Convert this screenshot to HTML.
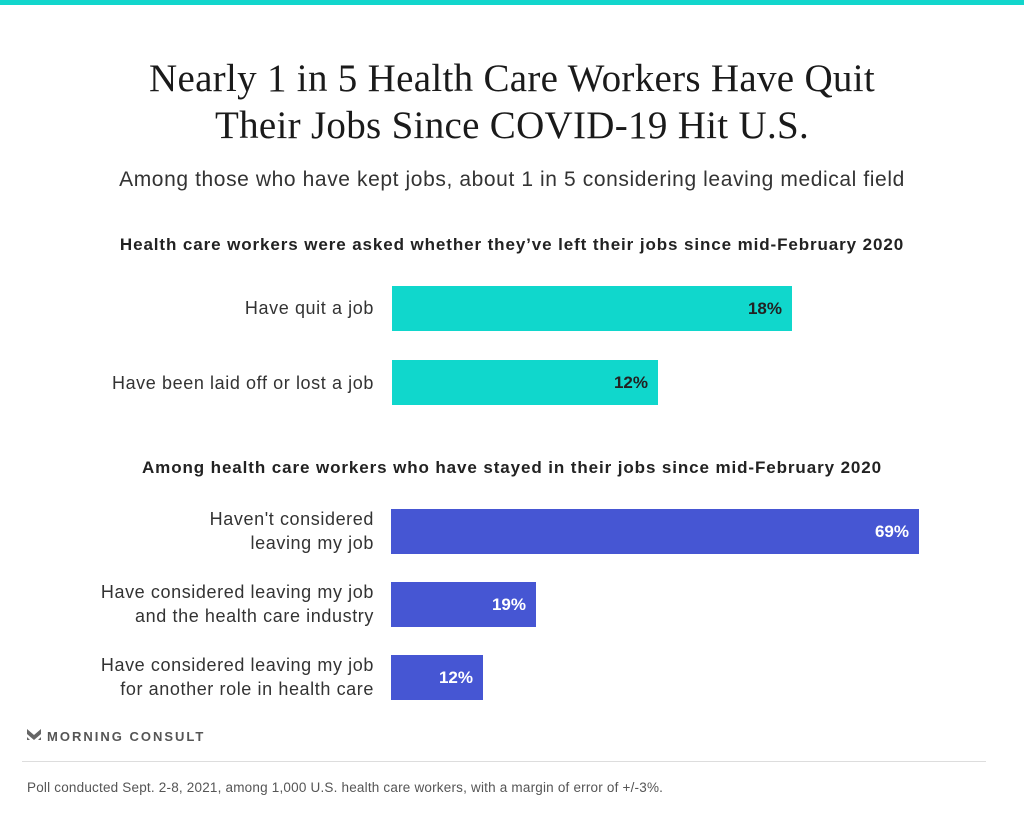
<!DOCTYPE html>
<html><head><meta charset="utf-8"><style>
body{margin:0;width:1024px;height:819px;background:#fff;position:relative;overflow:hidden;font-family:"Liberation Sans",sans-serif;color:#222}
.a{position:absolute}
.t{left:0;width:1024px;text-align:center;font-family:"Liberation Serif",serif;font-size:39px;color:#1a1a1a;letter-spacing:0.3px}
.lab{right:650px;text-align:right;font-size:18px;color:#333;line-height:24px;letter-spacing:0.6px}
.bar{left:392px;height:45px}
.v{position:absolute;right:10px;top:0;line-height:45px;font-weight:bold;font-size:17px}
.h{left:0;width:1024px;text-align:center;font-weight:bold;font-size:17px;color:#222;letter-spacing:0.9px}
</style></head><body>
<div class="a" style="left:0;top:0;width:1024px;height:5px;background:#12d6cc"></div>
<div class="a t" style="top:56px">Nearly 1 in 5 Health Care Workers Have Quit</div>
<div class="a t" style="top:103px">Their Jobs Since COVID-19 Hit U.S.</div>
<div class="a" style="left:0;width:1024px;text-align:center;top:168px;font-size:21px;color:#333;letter-spacing:0.6px">Among those who have kept jobs, about 1 in 5 considering leaving medical field</div>
<div class="a h" style="top:235px">Health care workers were asked whether they’ve left their jobs since mid-February 2020</div>
<div class="a lab" style="top:296px">Have quit a job</div>
<div class="a bar" style="top:286px;width:400px;background:#10d7cc"><span class="v" style="color:#222">18%</span></div>
<div class="a lab" style="top:371px">Have been laid off or lost a job</div>
<div class="a bar" style="top:360px;width:266px;background:#10d7cc"><span class="v" style="color:#222">12%</span></div>
<div class="a h" style="top:458px">Among health care workers who have stayed in their jobs since mid-February 2020</div>
<div class="a lab" style="top:507px">Haven't considered<br>leaving my job</div>
<div class="a bar" style="left:391px;top:509px;width:528px;background:#4656d3"><span class="v" style="color:#fff">69%</span></div>
<div class="a lab" style="top:580px">Have considered leaving my job<br>and the health care industry</div>
<div class="a bar" style="left:391px;top:582px;width:145px;background:#4656d3"><span class="v" style="color:#fff">19%</span></div>
<div class="a lab" style="top:653px">Have considered leaving my job<br>for another role in health care</div>
<div class="a bar" style="left:391px;top:655px;width:92px;background:#4656d3"><span class="v" style="color:#fff">12%</span></div>
<svg class="a" style="left:27px;top:729px" width="14" height="13" viewBox="0 0 14 13"><path d="M0 0L7 6L14 0V5L7 11L0 5Z M0 8L3 11H0Z M14 8L11 11H14Z" fill="#666"/></svg>
<div class="a" style="left:47px;top:729px;font-size:13px;color:#555;font-weight:bold;letter-spacing:2px">MORNING CONSULT</div>
<div class="a" style="left:22px;top:761px;width:964px;height:1px;background:#ddd"></div>
<div class="a" style="left:27px;top:780px;font-size:13.5px;color:#555;letter-spacing:0.2px">Poll conducted Sept. 2-8, 2021, among 1,000 U.S. health care workers, with a margin of error of +/-3%.</div>
</body></html>
